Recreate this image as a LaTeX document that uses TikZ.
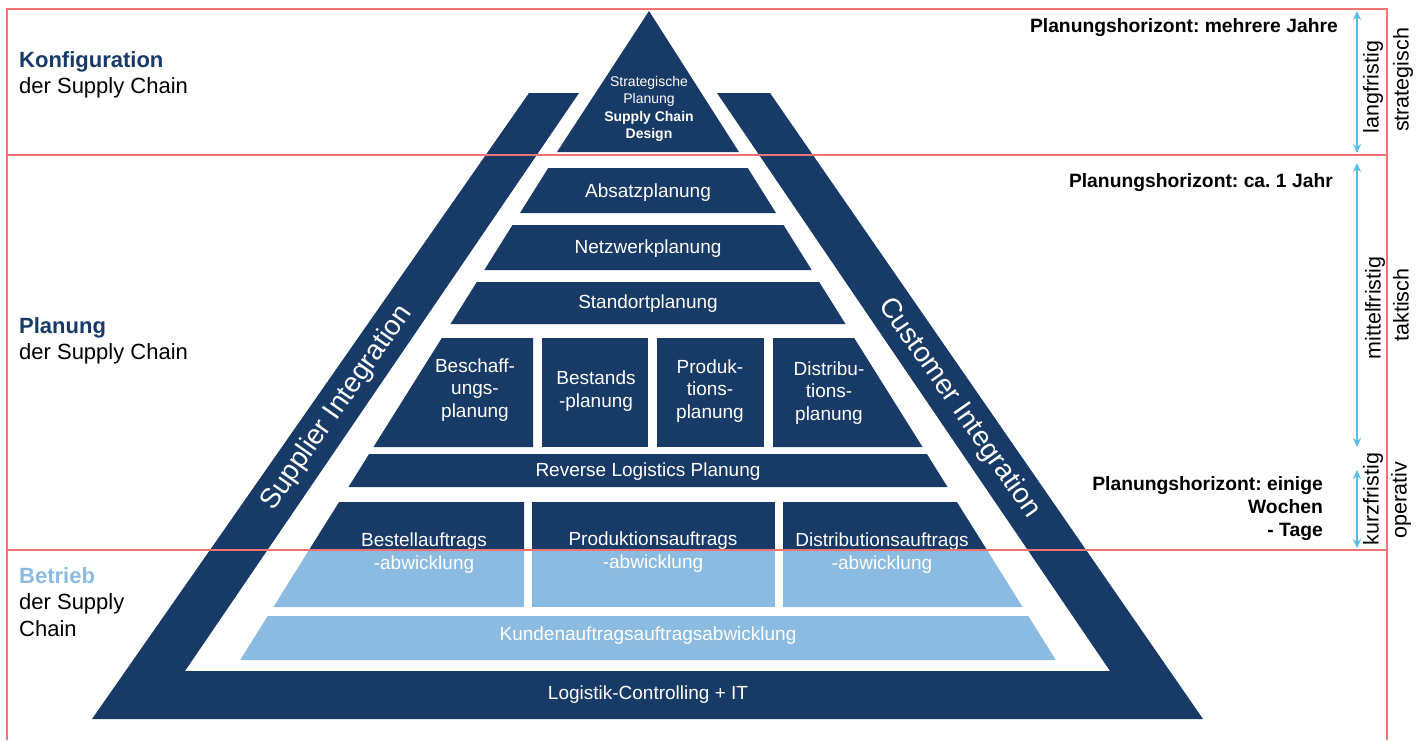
\documentclass[tikz,border=0pt]{standalone}
\usepackage{fontspec}
\setmainfont{Liberation Sans}
\usetikzlibrary{arrows.meta}
\definecolor{navy}{HTML}{173A66}
\definecolor{lblue}{HTML}{8CBBE2}
\definecolor{redl}{HTML}{F07474}
\definecolor{cyanl}{HTML}{55BDE8}
\frenchspacing
\begin{document}
\begin{tikzpicture}[x=1pt,y=-1pt,
  layer/.style={fill=navy},
  oplayer/.style={fill=lblue},
  wtext/.style={text=white, font=\fontsize{19}{22.5}\selectfont, align=center, inner sep=0pt},
  sidelabel/.style={font=\fontsize{22}{26.5}\selectfont, align=left, anchor=west, inner sep=0pt},
  horizon/.style={font=\bfseries\fontsize{19.3}{23}\selectfont, align=right, anchor=east, inner sep=0pt},
  vtext/.style={font=\fontsize{21.5}{24}\selectfont, rotate=90, inner sep=0pt},
  bandtext/.style={text=white, font=\fontsize{28}{32}\selectfont, inner sep=0pt},
  redline/.style={draw=redl, line width=2.5pt},
  span/.style={draw=cyanl, line width=2pt, {Stealth[length=9pt,width=8pt]}-{Stealth[length=9pt,width=8pt]}}
]
\useasboundingbox (0,0) rectangle (1424,740);
\fill[white] (0,0) rectangle (1424,740);

% outer frame (supplier / customer bands + bottom band)
\fill[navy] (529,93) -- (92,719) -- (1203,719) -- (770,93) -- (717,93)
  -- (1110,671) -- (185,671) -- (579,93) -- cycle;

% apex triangle
\fill[navy] (649,11) -- (557,152) -- (739,152) -- cycle;

% planning layers
\fill[layer] (548.2,168) -- (747.8,168) -- (776,213) -- (520,213) -- cycle;
\fill[layer] (512.5,225) -- (783.5,225) -- (811.7,270) -- (484.3,270) -- cycle;
\fill[layer] (476.8,282) -- (819.2,282) -- (845.5,324) -- (450.5,324) -- cycle;
% four boxes
\fill[layer] (441.8,338) -- (533,338) -- (533,447) -- (373.5,447) -- cycle;
\fill[layer] (542,338) rectangle (648,447);
\fill[layer] (657,338) rectangle (764,447);
\fill[layer] (773,338) -- (854.2,338) -- (922.5,447) -- (773,447) -- cycle;
% reverse logistics
\fill[layer] (369.1,454) -- (926.9,454) -- (947.5,487) -- (348.5,487) -- cycle;
% order processing boxes (upper navy, lower light blue)
\fill[layer] (339.1,502) -- (524,502) -- (524,550) -- (309,550) -- cycle;
\fill[oplayer] (309,550) -- (524,550) -- (524,607) -- (273.4,607) -- cycle;
\fill[layer] (532,502) rectangle (775,550);
\fill[oplayer] (532,550) rectangle (775,607);
\fill[layer] (783,502) -- (956.9,502) -- (987,550) -- (783,550) -- cycle;
\fill[oplayer] (783,550) -- (987,550) -- (1022.6,607) -- (783,607) -- cycle;
% customer orders
\fill[oplayer] (267.7,616) -- (1028.3,616) -- (1055.8,660) -- (240.2,660) -- cycle;

% texts in pyramid
\node[wtext, font=\fontsize{14}{17.5}\selectfont] (apex) at (649,109)
  {Strategische\\Planung\\\textbf{Supply Chain}\\\textbf{Design}};
\node[wtext] (absatz) at (648,193) {Absatzplanung};
\node[wtext] (netz) at (648,249) {Netzwerkplanung};
\node[wtext] (stand) at (648,304) {Standortplanung};
\node[wtext] (besch) at (475,390) {Beschaff-\\ungs-\\planung};
\node[wtext] (best) at (596,391) {Bestands\\-planung};
\node[wtext] (prod) at (710,391) {Produk-\\tions-\\planung};
\node[wtext] (dist) at (829,393) {Distribu-\\tions-\\planung};
\node[wtext] (rev) at (648,472) {Reverse Logistics Planung};
\node[wtext] (bestell) at (424,553) {Bestellauftrags\\-abwicklung};
\node[wtext] (prodauf) at (653,552) {Produktionsauftrags\\-abwicklung};
\node[wtext] (distauf) at (882,553) {Distributionsauftrags\\-abwicklung};
\node[wtext] (kunden) at (648,636) {Kundenauftragsauftragsabwicklung};
\node[wtext] (logi) at (648,695) {Logistik-Controlling + IT};
\node[bandtext, rotate=55] (supp) at (337,408) {Supplier Integration};
\node[bandtext, rotate=-55] (cust) at (959,408) {Customer Integration};

% red frame
\draw[redline] (7,740) -- (7,9) -- (1387,9) -- (1387,740);
\draw[redline] (7,155) -- (1387,155);
\draw[redline] (7,550) -- (1387,550);

% left labels
\node[sidelabel] (konf) at (19,75) {\textcolor{navy}{\textbf{Konfiguration}}\\der Supply Chain};
\node[sidelabel] (plan) at (19,341) {\textcolor{navy}{\textbf{Planung}}\\der Supply Chain};
\node[sidelabel] (betr) at (19,602) {\textcolor{lblue}{\textbf{Betrieb}}\\der Supply\\Chain};

% right horizon texts
\node[horizon] (h1) at (1338,28) {Planungshorizont: mehrere Jahre};
\node[horizon] (h2) at (1333,183) {Planungshorizont: ca. 1 Jahr};
\node[horizon] (h3) at (1323,509) {Planungshorizont: einige\\Wochen\\- Tage};

% arrows
\coordinate (a1t) at (1357,11);
\coordinate (a1b) at (1357,153);
\coordinate (a2t) at (1357,163);
\coordinate (a2b) at (1357,447);
\coordinate (a3t) at (1357,470);
\coordinate (a3b) at (1357,548);
\draw[span] (a1t) -- (a1b);
\draw[span] (a2t) -- (a2b);
\draw[span] (a3t) -- (a3b);

% vertical labels
\node[vtext] (lang) at (1373,87) {langfristig};
\node[vtext] (strat) at (1403,80) {strategisch};
\node[vtext] (mittel) at (1375,308) {mittelfristig};
\node[vtext] (takt) at (1401,305) {taktisch};
\node[vtext] (kurz) at (1373,499) {kurzfristig};
\node[vtext] (oper) at (1401,500) {operativ};
\end{tikzpicture}
\end{document}
